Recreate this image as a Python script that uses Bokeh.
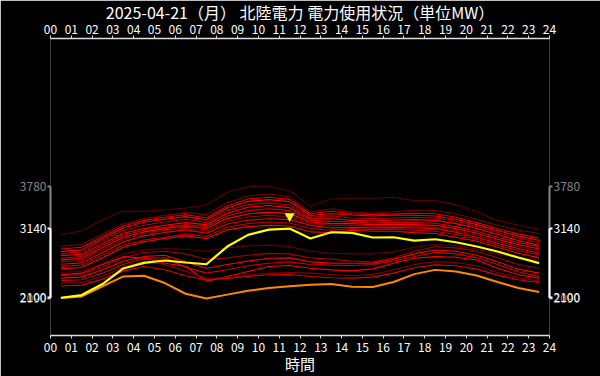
from bokeh.plotting import figure
from bokeh.models import Range1d, LinearAxis, FixedTicker, ColumnDataSource, GridBox
from bokeh.embed import file_html
from bokeh.resources import INLINE

FONT = "Noto Sans CJK JP"

title_text = "2025-04-21（月） 北陸電力 電力使用状況（単位MW）"
x_title = "時間"

hours = [0.5, 1.5, 2.5, 3.5, 4.5, 5.5, 6.5, 7.5, 8.5, 9.5, 10.5, 11.5,
         12.5, 13.5, 14.5, 15.5, 16.5, 17.5, 18.5, 19.5, 20.5, 21.5, 22.5, 23.5]
hour_ticks = [0, 1, 2, 3, 4, 5, 6, 7, 8, 9, 10, 11, 12, 13, 14, 15, 16, 17, 18, 19, 20, 21, 22, 23, 24]
hour_labels = ["00", "01", "02", "03", "04", "05", "06", "07", "08", "09", "10", "11", "12",
               "13", "14", "15", "16", "17", "18", "19", "20", "21", "22", "23", "24"]

# today (yellow)
today = [2100, 2140, 2306, 2540, 2625, 2660, 2630, 2604, 2870, 3045, 3125, 3140,
         2991, 3085, 3076, 3006, 3010, 2960, 2980, 2935, 2870, 2795, 2705, 2620]
# yesterday (orange)
yesterday = [2095, 2120, 2272, 2420, 2430, 2321, 2160, 2090, 2147, 2206, 2246, 2272,
             2295, 2306, 2266, 2261, 2336, 2455, 2519, 2495, 2435, 2336, 2246, 2187]

# earlier days (red shades)
d01 = [3050, 3105, 3278, 3400, 3400, 3423, 3450, 3497, 3686, 3770, 3780, 3710,
       3478, 3586, 3597, 3597, 3612, 3561, 3561, 3497, 3393, 3263, 3189, 3129]
d02 = [2876, 2900, 3060, 3210, 3289, 3340, 3380, 3350, 3530, 3630, 3661, 3620,
       3388, 3438, 3388, 3375, 3390, 3420, 3412, 3360, 3280, 3190, 3120, 3065]
d03 = [2832, 2860, 3020, 3180, 3264, 3310, 3350, 3300, 3480, 3585, 3612, 3580,
       3363, 3400, 3363, 3350, 3360, 3370, 3363, 3310, 3230, 3140, 3060, 2999]
d04 = [2793, 2820, 2990, 3150, 3239, 3280, 3320, 3270, 3450, 3550, 3576, 3545,
       3338, 3363, 3345, 3330, 3345, 3340, 3330, 3280, 3200, 3110, 3030, 2963]
d05 = [2760, 2790, 2950, 3110, 3189, 3240, 3280, 3230, 3410, 3500, 3527, 3495,
       3314, 3329, 3299, 3290, 3300, 3310, 3300, 3250, 3170, 3080, 3000, 2928]
d06 = [2733, 2755, 2910, 3070, 3140, 3190, 3230, 3200, 3370, 3460, 3487, 3455,
       3289, 3289, 3264, 3255, 3270, 3275, 3264, 3215, 3140, 3050, 2960, 2888]
d07 = [2693, 2720, 2880, 3040, 3115, 3160, 3200, 3170, 3330, 3410, 3438, 3410,
       3264, 3249, 3239, 3225, 3235, 3230, 3220, 3170, 3100, 3010, 2930, 2864]
d08 = [2670, 2690, 2850, 3010, 3090, 3140, 3175, 3140, 3290, 3360, 3388, 3365,
       3239, 3214, 3214, 3200, 3205, 3200, 3189, 3140, 3070, 2980, 2900, 2832]
d09 = [2643, 2660, 2815, 2975, 3065, 3110, 3150, 3100, 3250, 3315, 3338, 3320,
       3214, 3189, 3189, 3175, 3180, 3175, 3165, 3110, 3040, 2950, 2870, 2802]
d10 = [2604, 2625, 2780, 2940, 3031, 3080, 3120, 3070, 3210, 3265, 3289, 3275,
       3189, 3150, 3160, 3150, 3155, 3150, 3140, 3085, 3010, 2920, 2840, 2770]
d11 = [2569, 2590, 2740, 2890, 2966, 3010, 3060, 3020, 3160, 3215, 3239, 3225,
       3140, 3115, 3140, 3125, 3130, 3115, 3100, 3050, 2980, 2890, 2810, 2742]
d12 = [2534, 2555, 2700, 2860, 2941, 2990, 3030, 2991, 3120, 3170, 3189, 3180,
       3090, 3080, 3115, 3100, 3100, 3080, 3065, 3010, 2950, 2860, 2770, 2700]
d13 = [2480, 2500, 2620, 2760, 2820, 2840, 2830, 2800, 2850, 2880, 2891, 2872,
       2800, 2770, 2760, 2760, 2790, 2860, 2900, 2880, 2830, 2760, 2700, 2668]
d14 = [2435, 2450, 2560, 2700, 2780, 2800, 2760, 2680, 2700, 2740, 2767, 2760,
       2700, 2680, 2650, 2640, 2700, 2800, 2867, 2850, 2800, 2700, 2600, 2544]
d15 = [2395, 2410, 2520, 2650, 2720, 2740, 2640, 2544, 2600, 2650, 2693, 2700,
       2640, 2620, 2619, 2620, 2680, 2760, 2817, 2800, 2740, 2640, 2530, 2470]
d16 = [2355, 2370, 2470, 2600, 2693, 2700, 2560, 2470, 2520, 2580, 2619, 2640,
       2600, 2590, 2584, 2600, 2650, 2720, 2782, 2760, 2700, 2600, 2490, 2421]
d17 = [2445, 2470, 2600, 2718, 2693, 2619, 2574, 2346, 2420, 2495, 2569, 2584,
       2544, 2519, 2504, 2534, 2619, 2693, 2718, 2708, 2668, 2544, 2445, 2395]
d18 = [2320, 2330, 2420, 2560, 2643, 2600, 2500, 2395, 2400, 2440, 2470, 2480,
       2470, 2450, 2435, 2450, 2520, 2600, 2643, 2630, 2580, 2480, 2400, 2350]
d19 = [2276, 2290, 2380, 2500, 2569, 2520, 2430, 2370, 2390, 2420, 2445, 2450,
       2420, 2400, 2395, 2410, 2470, 2550, 2594, 2580, 2530, 2440, 2370, 2330]

past_days = [d01, d02, d03, d04, d05, d06, d07, d08, d09, d10,
             d11, d12, d13, d14, d15, d16, d17, d18, d19]
past_colors = ["#5a0000", "#7a0000", "#e00000", "#ff0000", "#b00000", "#ff0000",
               "#d40000", "#ff0000", "#900000", "#ee0000", "#c00000", "#ff0000",
               "#600000", "#a00000", "#ff0000", "#cc0000", "#ff0000", "#880000", "#e00000"]

all_vals = today + yesterday + [v for d in past_days for v in d]
y_all_min, y_all_max = min(all_vals), max(all_vals)
t_min, t_max = min(today), max(today)
peak_hour = hours[today.index(t_max)]

Y0, Y1 = 1532, 5999
FRAME_H = 300
xr = Range1d(0, 24)
yr = Range1d(Y0, Y1)
BORDERS = dict(min_border_left=50, min_border_right=51, min_border_top=38, min_border_bottom=38)


def layer(fill):
    f = figure(width=600, height=376, x_range=xr, y_range=yr,
               output_backend="svg", toolbar_location=None,
               x_axis_location=None, y_axis_location=None,
               background_fill_color=fill, border_fill_color=fill, **BORDERS)
    f.outline_line_color = None
    f.grid.visible = False
    return f


# layer 1: the data
fig = layer("black")
src = ColumnDataSource(dict(xs=[hours] * len(past_days), ys=past_days, color=past_colors))
fig.multi_line("xs", "ys", source=src, line_color="color", line_width=1.1)
fig.line(hours, yesterday, line_color="#ff8800", line_width=2)
fig.line(hours, today, line_color="#ffff00", line_width=2.2)
fig.scatter([peak_hour], [t_max + 12.5 * (Y1 - Y0) / FRAME_H], marker="inverted_triangle",
            size=10, fill_color="#ffff00", line_color=None)

# layer 2: title and time axes
time_axes = layer(None)
time_axes.title.text = title_text
time_axes.title.align = "center"
time_axes.title.text_color = "white"
time_axes.title.text_font = FONT
time_axes.title.text_font_size = "16px"
time_axes.title.text_font_style = "normal"
time_axes.title.standoff = -5


def style_x(ax, standoff):
    ax.ticker = FixedTicker(ticks=hour_ticks)
    ax.major_label_overrides = {t: l for t, l in zip(hour_ticks, hour_labels)}
    ax.axis_line_color = "#dddddd"
    ax.axis_line_width = 1.5
    ax.major_tick_line_color = "#dddddd"
    ax.minor_tick_line_color = None
    ax.major_tick_out = 3
    ax.major_tick_in = 0
    ax.major_label_standoff = standoff
    ax.major_label_text_color = "white"
    ax.major_label_text_font = FONT
    ax.major_label_text_font_size = "12px"


top = LinearAxis()
style_x(top, 2)
time_axes.add_layout(top, "above")
bottom = LinearAxis()
style_x(bottom, 4)
time_axes.add_layout(bottom, "below")


def y_axis(lo, hi, color):
    ax = LinearAxis(bounds=(lo, hi), ticker=FixedTicker(ticks=[lo, hi]))
    ax.axis_line_color = color
    ax.axis_line_width = 2
    ax.major_tick_line_color = color
    ax.major_tick_line_width = 2
    ax.minor_tick_line_color = None
    ax.major_tick_out = 3
    ax.major_tick_in = 0
    ax.major_label_standoff = 1
    ax.major_label_text_color = color
    ax.major_label_text_font = FONT
    ax.major_label_text_font_size = "12px"
    ax.major_label_text_baseline = "alphabetic"
    return ax


# layer 3: overall min/max axes (grey) and the time axis title
range_axes = layer(None)
range_axes.add_layout(y_axis(y_all_min, y_all_max, "#888888"), "left")
range_axes.add_layout(y_axis(y_all_min, y_all_max, "#888888"), "right")
name_axis = LinearAxis(axis_label=x_title, ticker=FixedTicker(ticks=[]))
name_axis.axis_line_color = None
name_axis.major_tick_line_color = None
name_axis.minor_tick_line_color = None
name_axis.axis_label_text_color = "white"
name_axis.axis_label_text_font = FONT
name_axis.axis_label_text_font_size = "15px"
name_axis.axis_label_text_font_style = "normal"
name_axis.axis_label_standoff = 17
range_axes.add_layout(name_axis, "below")

# layer 4: today's min/max axes (white)
today_axes = layer(None)
today_axes.add_layout(y_axis(t_min, t_max, "#ffffff"), "left")
today_axes.add_layout(y_axis(t_min, t_max, "#ffffff"), "right")

p = GridBox(children=[(fig, 0, 0), (time_axes, 0, 0), (range_axes, 0, 0), (today_axes, 0, 0)])

open("out.html", "w").write(file_html(p, INLINE))
